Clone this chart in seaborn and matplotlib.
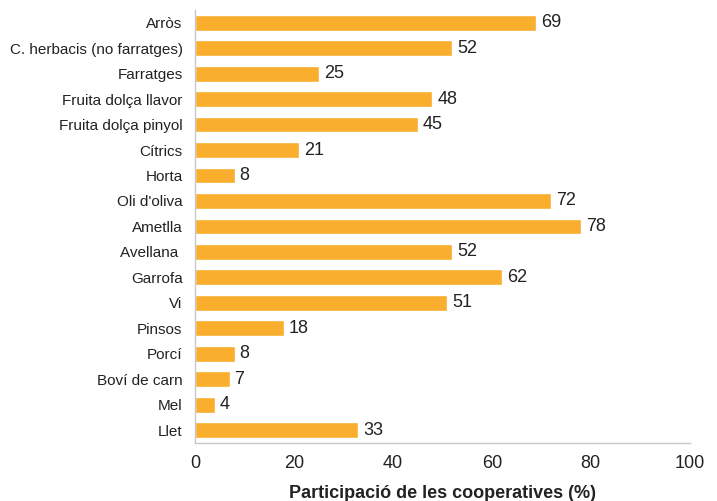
import pandas as pd
import seaborn as sns
import matplotlib.pyplot as plt

# data
categories = ["Arròs", "C. herbacis (no farratges)", "Farratges", "Fruita dolça llavor",
              "Fruita dolça pinyol", "Cítrics", "Horta", "Oli d'oliva", "Ametlla",
              "Avellana ", "Garrofa", "Vi", "Pinsos", "Porcí", "Boví de carn", "Mel", "Llet"]
values = [69, 52, 25, 48, 45, 21, 8, 72, 78, 52, 62, 51, 18, 8, 7, 4, 33]

df = pd.DataFrame({"categoria": categories, "valor": values})

sns.set_style("white")
plt.rcParams["font.family"] = ["Liberation Sans", "DejaVu Sans"]

fig = plt.figure(figsize=(7.17, 5.01), dpi=100)
ax = fig.add_axes([0.272, 0.116, 0.69, 0.864])

sns.barplot(data=df, x="valor", y="categoria", color="#F9AE2E", saturation=1,
            width=0.62, ax=ax)

# value labels at the end of each bar
for i, v in enumerate(values):
    ax.text(v + 1, i, str(v), va="center", ha="left", fontsize=13, color="#222222")

ax.set_xlim(0, 100)
ax.set_ylim(len(categories) - 0.5, -0.5)
ax.set_xticks(range(0, 101, 20))
ax.set_xlabel("Participació de les cooperatives (%)", fontsize=13, fontweight="bold",
              color="#222222", labelpad=9)
ax.set_ylabel("")

for side in ["top", "right"]:
    ax.spines[side].set_visible(False)
for side in ["left", "bottom"]:
    ax.spines[side].set_color("#C8C8C8")
    ax.spines[side].set_linewidth(1)

ax.tick_params(axis="x", length=0, labelsize=13, colors="#222222", pad=9)
ax.tick_params(axis="y", length=0, labelsize=11, colors="#222222", pad=9)

fig.savefig("out.png", dpi=100)
